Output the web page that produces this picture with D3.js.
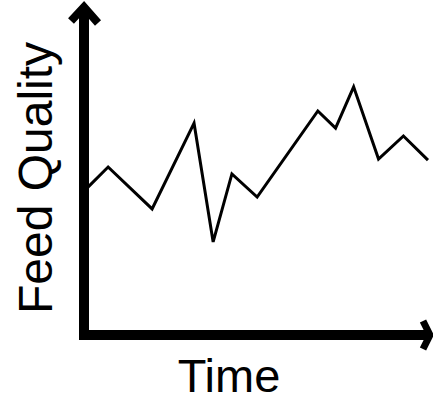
<!DOCTYPE html>
<html>
    <head>
        <meta charset="utf-8">
        <title>Feed Quality over Time</title>
        <script type="text/javascript" src="https://cdn.jsdelivr.net/npm/d3@7"></script>
        <style>
            body { margin: 0; background: #fff; }
        </style>
    </head>
    <body>
        <svg id="svg"></svg>

        <script>
            var WIDTH = 433;
            var HEIGHT = 398;

            // time (arbitrary units) and feed quality (arbitrary units)
            var times   = [0, 5.9, 18.8, 31.1, 36.7, 42.2, 49.6, 67.4, 72.6, 77.9, 85.2, 92.5, 99.7];
            var quality = [44.8, 50.9, 38.2, 64.2, 28.2, 48.8, 41.8, 67.9, 62.7, 75.2, 53.3, 60.3, 53.0];
            var X_LABEL = "Time";
            var Y_LABEL = "Feed Quality";

            var svg = d3.select('#svg')
                        .attr('width', WIDTH)
                        .attr('height', HEIGHT);

            var x = d3.scaleLinear().domain([0, 100]).range([88, 429]);
            var y = d3.scaleLinear().domain([0, 100]).range([335, 5]);

            // axes: thick black lines, no ticks
            var axisX = 84;   // pixel position of the y axis
            var axisY = 335;  // pixel position of the x axis

            svg.append("line")
               .attr("x1", axisX).attr("y1", axisY + 5)
               .attr("x2", axisX).attr("y2", y(100) + 2)
               .attr("stroke", "black")
               .attr("stroke-width", 10);

            svg.append("line")
               .attr("x1", axisX - 5).attr("y1", axisY)
               .attr("x2", 430).attr("y2", axisY)
               .attr("stroke", "black")
               .attr("stroke-width", 10);

            // arrow heads
            svg.append("polyline")
               .attr("points", [[axisX - 13, 21], [axisX, 7], [axisX + 14, 23]].join(" "))
               .attr("fill", "none")
               .attr("stroke", "black")
               .attr("stroke-width", 8)
               .attr("stroke-linejoin", "miter");

            svg.append("polyline")
               .attr("points", [[423, axisY - 14], [430, axisY], [423, axisY + 14]].join(" "))
               .attr("fill", "none")
               .attr("stroke", "black")
               .attr("stroke-width", 7)
               .attr("stroke-linejoin", "miter");

            var line = d3.line()
                         .x(function(d, i){ return x(times[i]); })
                         .y(function(d){ return y(d); });

            svg.append("path")
               .datum(quality)
               .attr("d", line)
               .attr("fill", "none")
               .attr("stroke", "black")
               .attr("stroke-width", 3)
               .attr("stroke-linejoin", "miter");

            svg.append("text")
               .text(X_LABEL)
               .attr("x", 229)
               .attr("y", 392)
               .attr("text-anchor", "middle")
               .attr("font-family", "Liberation Sans, Arial, sans-serif")
               .attr("font-size", "47px")
               .attr("fill", "black");

            svg.append("text")
               .text(Y_LABEL)
               .attr("transform", "translate(52,178) rotate(-90)")
               .attr("text-anchor", "middle")
               .attr("font-family", "Liberation Sans, Arial, sans-serif")
               .attr("font-size", "48px")
               .attr("fill", "black");
        </script>
    </body>
</html>
